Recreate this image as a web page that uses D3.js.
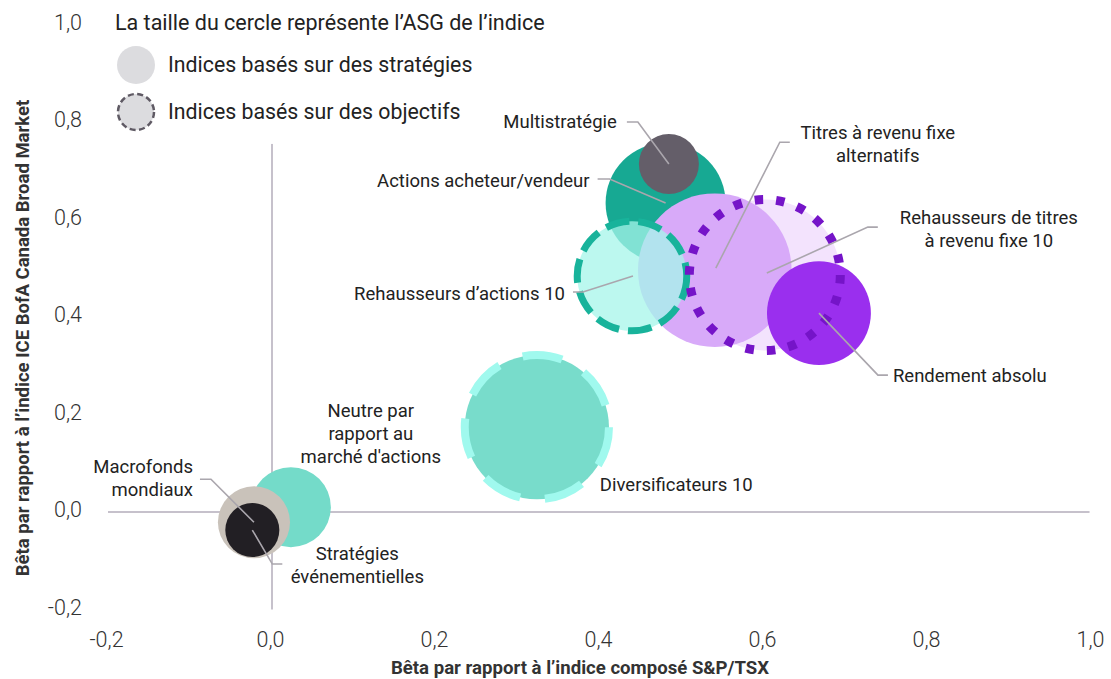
<!DOCTYPE html>
<html>
<head>
<meta charset="utf-8">
<script src="https://cdn.jsdelivr.net/npm/d3@7"></script>
<style>
  html, body { margin: 0; padding: 0; background: #fff; }
  svg { display: block; font-family: Roboto, "Noto Sans", sans-serif; }
</style>
</head>
<body>
<svg id="chart" width="1111" height="679"></svg>
<script>
// ---------- DATA ----------
const names = [
  "Diversificateurs 10",
  "Neutre par rapport au marché d'actions",
  "Macrofonds mondiaux",
  "Stratégies événementielles",
  "Actions acheteur/vendeur",
  "Multistratégie",
  "Rehausseurs de titres à revenu fixe 10",
  "Titres à revenu fixe alternatifs",
  "Rendement absolu",
  "Rehausseurs d’actions 10"
];
const betaTSX   = [0.323, 0.023, -0.022, -0.024, 0.480, 0.484, 0.601, 0.540, 0.667, 0.439];
const betaBond  = [0.174, 0.010, -0.021, -0.037, 0.634, 0.714, 0.486, 0.496, 0.408, 0.484];
const asg       = [52, 16, 13, 7.3, 36, 9, 57, 59, 27, 30];
const indexType = ["objectif","strategie","strategie","strategie","strategie","strategie","objectif","strategie","strategie","objectif"];

const xTicks = [-0.2, 0, 0.2, 0.4, 0.6, 0.8, 1.0];
const yTicks = [-0.2, 0, 0.2, 0.4, 0.6, 0.8, 1.0];

const legendTitle = "La taille du cercle représente l’ASG de l’indice";
const legendItems = ["Indices basés sur des stratégies", "Indices basés sur des objectifs"];
const xTitle = "Bêta par rapport à l’indice composé S&P/TSX";
const yTitle = "Bêta par rapport à l’indice ICE BofA Canada Broad Market";

// ---------- STYLES ----------
const styles = [
  { fill: "#78dccb", stroke: "#a0f9ee", sw: 8, dash: "40 25" },
  { fill: "#74dbc9" },
  { fill: "#c9c2ba" },
  { fill: "#221f24" },
  { fill: "#17a993" },
  { fill: "#645e69" },
  { fill: "#f3e3fd", stroke: "#7514c8", sw: 9, dotted: true },
  { fill: "#d8aaf9" },
  { fill: "#9a2fee" },
  { fill: "rgb(166,246,234)", fillOpacity: 0.75, stroke: "#18b39b", sw: 7, dash: "24 9" }
];

// label annotations: lines of text, label offset, anchor, leader polyline offsets
const labelCfg = [
  { lines: ["Diversificateurs 10"], dx: 63, dy: 57, anchor: "start" },
  { lines: ["Neutre par", "rapport au", "marché d'actions"], dx: 80, dy: -97, anchor: "middle" },
  { lines: ["Macrofonds", "mondiaux"], dx: -61, dy: -56, anchor: "end", leader: [[-54,-43],[-43,-43],[0,0]] },
  { lines: ["Stratégies", "événementielles"], dx: 105, dy: 23, anchor: "middle", leader: [[0,0],[20,34],[30,34]] },
  { lines: ["Actions acheteur/vendeur"], dx: -76, dy: -22, anchor: "end", leader: [[-68,-24],[-56,-24],[0,0]] },
  { lines: ["Multistratégie"], dx: -52, dy: -42, anchor: "end", leader: [[-42,-42],[-31,-42],[0,0]] },
  { lines: ["Rehausseurs de titres", "à revenu fixe 10"], dx: 224, dy: -58, anchor: "middle", leader: [[113,-48],[103,-48],[2,-2]] },
  { lines: ["Titres à revenu fixe", "alternatifs"], dx: 163, dy: -138, anchor: "middle", leader: [[75,-128],[65,-128],[1,-2]] },
  { lines: ["Rendement absolu"], dx: 74, dy: 62, anchor: "start", leader: [[0,0],[59,62],[69,62]] },
  { lines: ["Rehausseurs d’actions 10"], dx: -67, dy: 17, anchor: "end", leader: [[-59,16],[-49,16],[1,0]] }
];

// ---------- SCALES ----------
const svg = d3.select("#chart");
svg.append("rect").attr("width", 1111).attr("height", 679).attr("fill", "#fff");

const x = d3.scaleLinear().domain([-0.2, 1.0]).range([108, 1092]);
const y = d3.scaleLinear().domain([-0.2, 1.0]).range([609.5, 24.5]);
const r = d3.scaleSqrt().domain([0, 100]).range([0, 100]);

const fmt = v => (v < 0 ? "-" : "") + Math.abs(v).toFixed(1).replace(".", ",");

// ---------- AXES ----------
const gx = svg.append("g").attr("transform", "translate(-2,632)")
  .call(d3.axisBottom(x).tickValues(xTicks).tickSize(0).tickPadding(0).tickFormat(fmt));
gx.select(".domain").remove();
gx.selectAll("text").attr("font-family", "Roboto").attr("font-weight", 300)
  .attr("font-size", 21.5).attr("fill", "#333");

const gy = svg.append("g").attr("transform", "translate(82,-2)")
  .call(d3.axisLeft(y).tickValues(yTicks).tickSize(0).tickPadding(0).tickFormat(fmt));
gy.select(".domain").remove();
gy.selectAll("text").attr("font-family", "Roboto").attr("font-weight", 300)
  .attr("font-size", 21.5).attr("fill", "#333");

// zero lines
svg.append("line").attr("x1", x(-0.2)).attr("x2", x(0.997)).attr("y1", y(0)).attr("y2", y(0))
  .attr("stroke", "#8d8398").attr("stroke-width", 1);
svg.append("line").attr("x1", x(0)).attr("x2", x(0)).attr("y1", y(0.755)).attr("y2", y(-0.2))
  .attr("stroke", "#8d8398").attr("stroke-width", 1);

// axis titles
svg.append("text").attr("x", 580).attr("y", 674).attr("text-anchor", "middle")
  .attr("font-weight", 700).attr("font-size", 18.6).attr("fill", "#333").text(xTitle);
svg.append("text").attr("transform", "translate(29,338) rotate(-90)").attr("text-anchor", "middle")
  .attr("font-weight", 700).attr("font-size", 18.5).attr("fill", "#333").text(yTitle);

// ---------- BUBBLES ----------
const data = names.map((n, i) => ({ name: n, x: betaTSX[i], y: betaBond[i], asg: asg[i], type: indexType[i], st: styles[i], lab: labelCfg[i] }));

const gB = svg.append("g");
data.forEach(d => {
  const c = gB.append("circle")
    .attr("cx", x(d.x)).attr("cy", y(d.y)).attr("r", r(d.asg))
    .attr("fill", d.st.fill)
    .attr("fill-opacity", d.st.fillOpacity || 1);
  if (d.st.stroke && !d.st.dotted) {
    c.attr("stroke", d.st.stroke).attr("stroke-width", d.st.sw).attr("stroke-dasharray", d.st.dash);
  }
});
// dotted ring drawn on top
data.filter(d => d.st.dotted).forEach(d => {
  const rr = r(d.asg);
  const circ = 2 * Math.PI * rr;
  const n = 22;
  const per = circ / n;
  gB.append("circle")
    .attr("cx", x(d.x)).attr("cy", y(d.y)).attr("r", rr)
    .attr("fill", "none").attr("stroke", d.st.stroke).attr("stroke-width", d.st.sw)
    .attr("stroke-dasharray", `8.5 ${per - 8.5}`);
});

// ---------- LEADERS & LABELS ----------
const gL = svg.append("g");
data.forEach(d => {
  const cx = x(d.x), cy = y(d.y);
  if (d.lab.leader) {
    gL.append("polyline")
      .attr("points", d.lab.leader.map(p => [cx + p[0], cy + p[1]].join(",")).join(" "))
      .attr("fill", "none").attr("stroke", "#aaa6ad").attr("stroke-width", 1.6);
  }
  const t = gL.append("text")
    .attr("text-anchor", d.lab.anchor)
    .attr("font-size", 18.5).attr("fill", "#222");
  d.lab.lines.forEach((ln, k) => {
    t.append("tspan").attr("x", cx + d.lab.dx).attr("y", cy + d.lab.dy + k * 23).attr("dy", "0.35em").text(ln);
  });
});

// ---------- LEGEND ----------
const gLeg = svg.append("g");
gLeg.append("text").attr("x", 115).attr("y", 22).attr("dy", "0.35em")
  .attr("font-size", 21.5).attr("fill", "#222").text(legendTitle);
gLeg.append("circle").attr("cx", 136).attr("cy", 65).attr("r", 19).attr("fill", "#dcdcdf");
gLeg.append("circle").attr("cx", 136).attr("cy", 112).attr("r", 18).attr("fill", "#dcdcdf")
  .attr("stroke", "#5f5a64").attr("stroke-width", 2.5).attr("stroke-dasharray", "6 3.5");
legendItems.forEach((t, i) => {
  gLeg.append("text").attr("x", 168).attr("y", 65 + i * 47).attr("dy", "0.35em")
    .attr("font-size", 21.3).attr("fill", "#222").text(t);
});
</script>
</body>
</html>
